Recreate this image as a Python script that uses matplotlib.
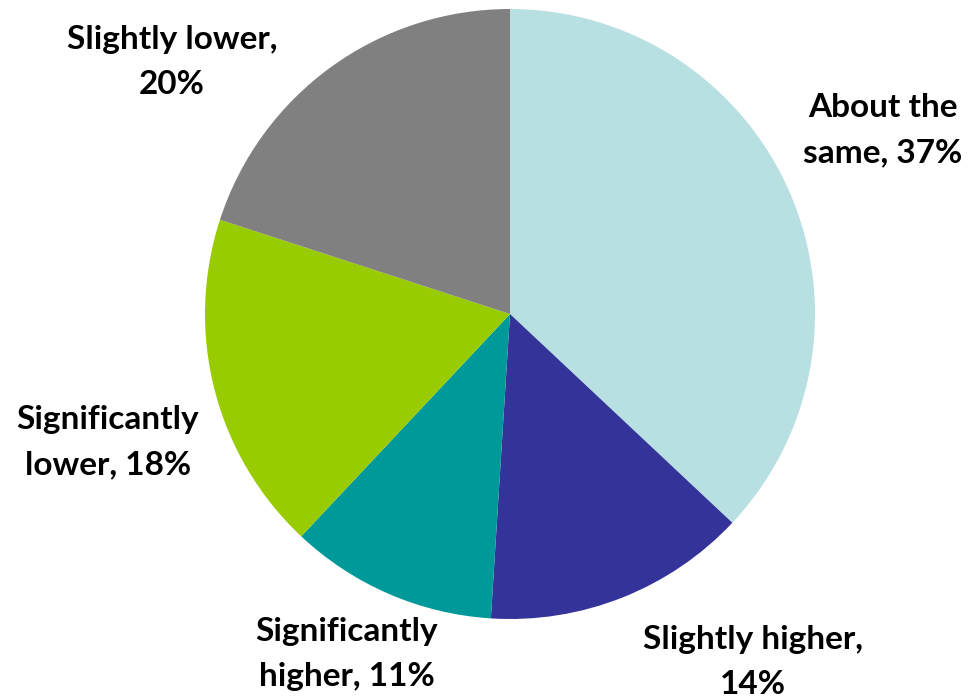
import matplotlib
matplotlib.use('Agg')
import matplotlib.pyplot as plt

# share of responses, clockwise from 12 o'clock
categories = ['About the same', 'Slightly higher', 'Significantly higher',
              'Significantly lower', 'Slightly lower']
shares = [37, 14, 11, 18, 20]
colors = ['#B8DFE2', '#333399', '#009999', '#99CC00', '#808080']

# label anchors in pixel space (y measured from the top)
label_pos = [(883, 130), (753, 662), (347, 654), (108, 442), (172, 62)]
label_text = ['About the\nsame, 37%', 'Slightly higher,\n14%',
              'Significantly\nhigher, 11%', 'Significantly\nlower, 18%',
              'Slightly lower,\n20%']

W, H = 968, 700


def main():
    plt.rcParams['font.family'] = ['Lato', 'DejaVu Sans']
    fig = plt.figure(figsize=(W / 100, H / 100), dpi=100)
    ax = fig.add_axes([0, 0, 1, 1])

    ax.pie(shares, colors=colors, startangle=90, counterclock=False,
           center=(510, H - 314), radius=305, frame=True,
           wedgeprops=dict(linewidth=0))
    ax.set_xlim(0, W)
    ax.set_ylim(0, H)
    ax.set_aspect('equal')
    ax.axis('off')

    for (x, y), txt in zip(label_pos, label_text):
        ax.text(x, H - y, txt, ha='center', va='center', fontsize=24,
                fontweight='bold', color='black', linespacing=1.7,
                multialignment='center')

    fig.savefig('out.png', dpi=100)


if __name__ == '__main__':
    main()
